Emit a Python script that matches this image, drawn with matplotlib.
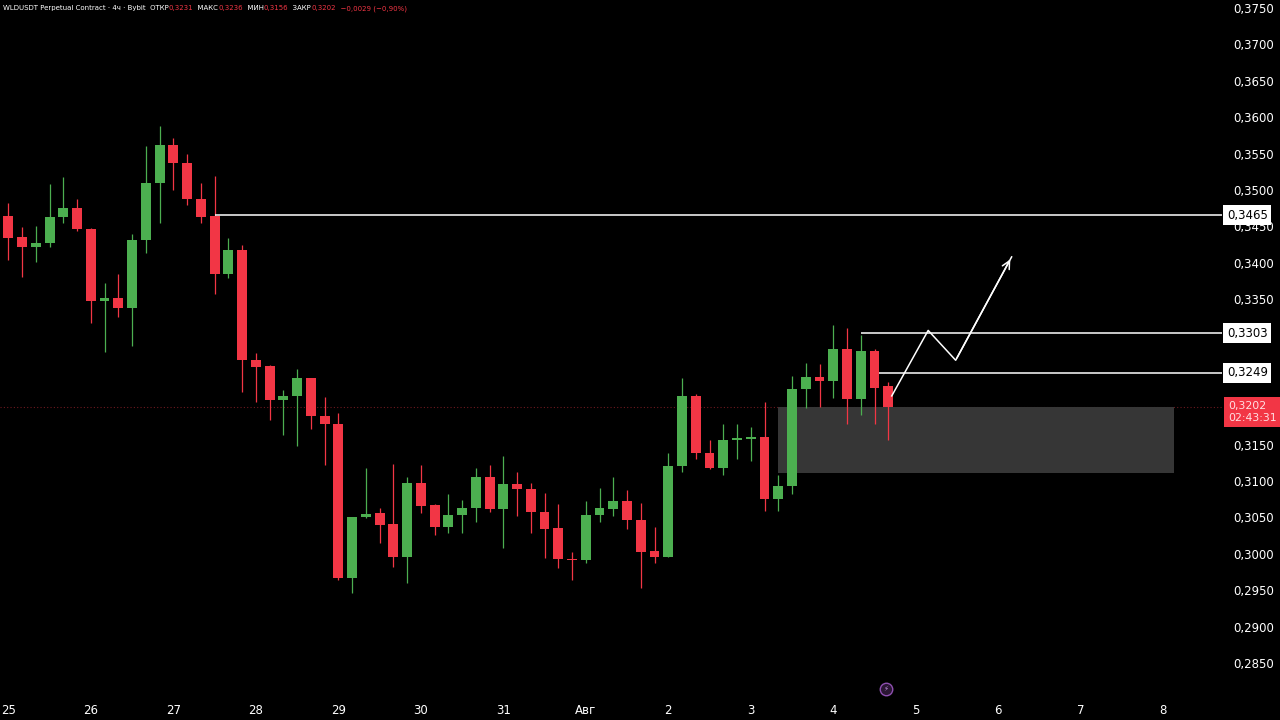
import numpy as np
import matplotlib
matplotlib.use("Agg")
import matplotlib.pyplot as plt
from matplotlib.patches import Rectangle

# 4h candles, WLDUSDT, starting 25 Jul 00:00
opens = [0.3464, 0.3435, 0.3421, 0.3427, 0.3463, 0.3475, 0.3447, 0.3347, 0.3352, 0.3338,
         0.3431, 0.3510, 0.3562, 0.3537, 0.3488, 0.3464, 0.3385, 0.3418, 0.3266, 0.3258,
         0.3211, 0.3217, 0.3241, 0.3189, 0.3178, 0.2967, 0.3050, 0.3056, 0.3041, 0.2995,
         0.3098, 0.3067, 0.3037, 0.3053, 0.3063, 0.3105, 0.3061, 0.3096, 0.3089, 0.3058,
         0.3035, 0.2993, 0.2992, 0.3053, 0.3062, 0.3073, 0.3047, 0.3004, 0.2995, 0.3121,
         0.3217, 0.3138, 0.3118, 0.3156, 0.3158, 0.3160, 0.3075, 0.3093, 0.3226, 0.3243,
         0.3238, 0.3281, 0.3213, 0.3279, 0.3231]
closes = [0.3434, 0.3421, 0.3427, 0.3463, 0.3475, 0.3447, 0.3347, 0.3351, 0.3338, 0.3431,
          0.3510, 0.3562, 0.3537, 0.3487, 0.3463, 0.3385, 0.3418, 0.3266, 0.3257, 0.3211,
          0.3217, 0.3241, 0.3190, 0.3178, 0.2967, 0.3050, 0.3055, 0.3040, 0.2995, 0.3097,
          0.3066, 0.3037, 0.3053, 0.3063, 0.3105, 0.3061, 0.3096, 0.3089, 0.3058, 0.3034,
          0.2993, 0.2992, 0.3053, 0.3063, 0.3073, 0.3047, 0.3003, 0.2995, 0.3121, 0.3217,
          0.3138, 0.3118, 0.3156, 0.3159, 0.3160, 0.3075, 0.3093, 0.3227, 0.3243, 0.3238,
          0.3281, 0.3213, 0.3279, 0.3228, 0.3202]
highs = [0.3482, 0.3449, 0.3450, 0.3508, 0.3518, 0.3487, 0.3448, 0.3372, 0.3385, 0.3440,
         0.3560, 0.3588, 0.3571, 0.3549, 0.3509, 0.3519, 0.3434, 0.3424, 0.3276, 0.3259,
         0.3225, 0.3254, 0.3242, 0.3216, 0.3193, 0.3050, 0.3118, 0.3063, 0.3123, 0.3106,
         0.3122, 0.3068, 0.3082, 0.3074, 0.3118, 0.3122, 0.3135, 0.3113, 0.3098, 0.3083,
         0.3069, 0.3002, 0.3072, 0.3090, 0.3106, 0.3088, 0.3070, 0.3037, 0.3138, 0.3241,
         0.3220, 0.3156, 0.3178, 0.3178, 0.3174, 0.3209, 0.3108, 0.3244, 0.3262, 0.3261,
         0.3314, 0.3310, 0.3301, 0.3281, 0.3236]
lows = [0.3404, 0.3381, 0.3401, 0.3421, 0.3454, 0.3443, 0.3317, 0.3278, 0.3326, 0.3286,
        0.3413, 0.3454, 0.3500, 0.3479, 0.3454, 0.3357, 0.3379, 0.3223, 0.3209, 0.3184,
        0.3163, 0.3148, 0.3172, 0.3122, 0.2964, 0.2946, 0.3049, 0.3015, 0.2982, 0.2960,
        0.3056, 0.3026, 0.3029, 0.3029, 0.3044, 0.3058, 0.3008, 0.3052, 0.3029, 0.2994,
        0.2981, 0.2964, 0.2988, 0.3044, 0.3052, 0.3034, 0.2953, 0.2987, 0.2995, 0.3113,
        0.3131, 0.3117, 0.3108, 0.3131, 0.3128, 0.3059, 0.3059, 0.3082, 0.3200, 0.3202,
        0.3214, 0.3179, 0.3191, 0.3179, 0.3156]

day_labels = ['25', '26', '27', '28', '29', '30', '31', 'Авг', '2', '3', '4', '5', '6', '7', '8']
price_ticks = [0.285, 0.290, 0.295, 0.300, 0.305, 0.310, 0.315, 0.335, 0.340, 0.345,
               0.350, 0.355, 0.360, 0.365, 0.370, 0.375]   # 0.320-0.330 hidden by labels

levels = [0.3465, 0.3303, 0.3249]
level_start = [15, 62, 63.3]
last_price = 0.3202
timer = '02:43:31'
zone_x = (56.0, 84.8)
zone_y = (0.3111, 0.3202)
path_x = [64.25, 66.9, 68.9, 72.97]
path_y = [0.3217, 0.3307, 0.3266, 0.3408]

GREEN = '#4caf50'
RED = '#f23645'

fig = plt.figure(figsize=(12.8, 7.2), dpi=100, facecolor='black')
ax = fig.add_axes([0, 22 / 720, 1222 / 1280, 698 / 720])
ax.set_facecolor('black')

idx = np.arange(len(opens))
o = np.array(opens)
c = np.array(closes)
cols = [GREEN if cc >= oo else RED for oo, cc in zip(o, c)]

ax.vlines(idx, lows, highs, colors=cols, linewidth=0.9, zorder=3)
bottom = np.minimum(o, c)
height = np.maximum(np.abs(c - o), 0.00008)
ax.bar(idx, height, bottom=bottom, width=0.72, color=cols, linewidth=0, zorder=4)

# zone
ax.add_patch(Rectangle((zone_x[0], zone_y[0]), zone_x[1] - zone_x[0], zone_y[1] - zone_y[0],
                       facecolor='#363636', edgecolor='none', zorder=2))

# last price dotted line
ax.axhline(last_price, color=RED, alpha=0.45, linewidth=0.8, linestyle=(0, (1, 2)), zorder=1)

# horizontal levels
xmax = (1222 - 8.3) / 13.75
for lv, xs in zip(levels, level_start):
    ax.plot([xs, xmax], [lv, lv], color='white', linewidth=1.1, zorder=5, solid_capstyle='butt')

# projected path
ax.plot(path_x, path_y, color='white', linewidth=1.1, zorder=6)
ax.annotate('', xy=(path_x[-1], path_y[-1]), xytext=(path_x[-2], path_y[-2]),
            arrowprops=dict(arrowstyle='->', color='white', lw=1.1, mutation_scale=14),
            zorder=6)

ax.set_xlim(-8.3 / 13.75, xmax)
ax.set_ylim(0.375 - 690 * 0.0001374, 0.375 + 8 * 0.0001374)

# axes styling
for sp in ax.spines.values():
    sp.set_visible(False)
ax.yaxis.tick_right()
ax.set_yticks(price_ticks)
ax.set_yticklabels([f'{p:.4f}'.replace('.', ',') for p in price_ticks])
ax.set_xticks(np.arange(len(day_labels)) * 6)
ax.set_xticklabels(day_labels)
ax.tick_params(axis='y', length=0, pad=8, labelcolor='white', labelsize=8.5)
ax.tick_params(axis='x', length=0, pad=4, labelcolor='white', labelsize=8.5)

# level labels on price scale
for lv in levels:
    ax.text(1.004, lv, f'{lv:.4f}'.replace('.', ','), transform=ax.get_yaxis_transform(),
            ha='left', va='center', fontsize=8.5, color='black', clip_on=False, zorder=10,
            bbox=dict(boxstyle='square,pad=0.3', facecolor='white', edgecolor='none'))
ax.text(1.0055, last_price + 0.0008, f'{last_price:.4f}'.replace('.', ',') + '\n' + timer,
        transform=ax.get_yaxis_transform(), ha='left', va='top', fontsize=7.8,
        color='#ffe0e3', clip_on=False, zorder=10, linespacing=1.25,
        bbox=dict(boxstyle='square,pad=0.4', facecolor=RED, edgecolor='none'))

# header
hdr = [('WLDUSDT Perpetual Contract · 4ч · Bybit  ОТКР', 'white'), ('0,3231', RED),
       ('  МАКС', 'white'), ('0,3236', RED), ('  МИН', 'white'), ('0,3156', RED),
       ('  ЗАКР', 'white'), ('0,3202', RED), ('  −0,0029 (−0,90%)', RED)]
renderer = fig.canvas.get_renderer()
xpos = 3
for s, col in hdr:
    t = fig.text(xpos / 1280, 0.993, s, color=col, fontsize=5, va='top', ha='left')
    xpos += t.get_window_extent(renderer).width

# small event marker
ax.plot([886 / 1280], [1 - 689 / 720], transform=fig.transFigure, marker='o', markersize=9,
        markerfacecolor='#2a1633', markeredgecolor='#8e4fb0', markeredgewidth=1.0,
        clip_on=False, zorder=10)
fig.text(886 / 1280, 1 - 689 / 720, '⚡', color='#c28ee0', fontsize=5, ha='center', va='center')

fig.savefig('out.png', dpi=100, facecolor='black')
